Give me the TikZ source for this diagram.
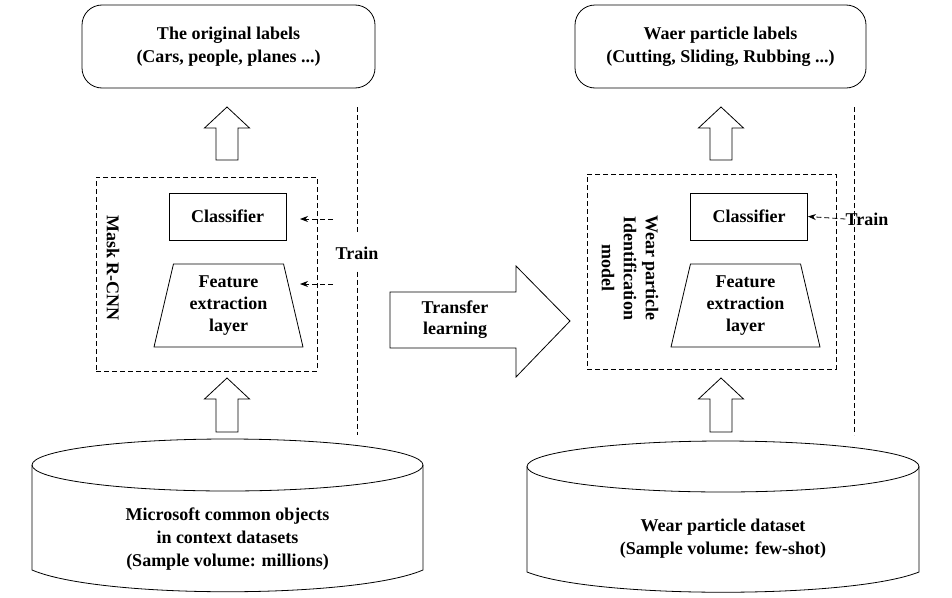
\documentclass[tikz,border=0pt]{standalone}
\usepackage{fontspec}
\setmainfont{Liberation Serif}
\usetikzlibrary{arrows.meta, positioning, calc, shapes.geometric}

% hollow up arrow: x, tip y, head base y, bottom y
\newcommand{\upblock}[4]{%
  \draw (#1,#2) -- (#1+22.5,#3) -- (#1+11,#3) -- (#1+11,#4) -- (#1-11,#4) -- (#1-11,#3) -- (#1-22.5,#3) -- cycle;}

\begin{document}
\begin{tikzpicture}[x=1pt, y=-1pt, line width=0.8pt,
    every node/.style={font=\bfseries\fontsize{18}{23}\selectfont, align=center, inner sep=0pt},
    labelbox/.style={draw, rounded corners=20pt, minimum width=293pt, minimum height=83pt},
    layerbox/.style={draw, minimum width=117pt, minimum height=47pt},
    featbox/.style={draw, trapezium, trapezium stretches=true, trapezium angle=77,
        minimum width=149pt, minimum height=83pt, font=\bfseries\fontsize{18}{22}\selectfont},
    modelbox/.style={draw, dash pattern=on 5pt off 3pt},
    guide/.style={dash pattern=on 5pt off 3pt},
    trainarrow/.style={dash pattern=on 5pt off 3pt, -{Stealth[length=8pt, width=6pt]}}]
    \useasboundingbox (0,0) rectangle (952,597);

    % left: source model
    \node[labelbox] (lout) at (228.5,46.5) {The original labels\\(Cars, people, planes ...)};
    \node[modelbox, minimum width=221pt, minimum height=194pt] (lmodel) at (206.5,274) {};
    \node[layerbox] (lcls) at (227.5,216.5) {Classifier};
    \node[featbox] (lfeat) at (228.5,305.5) {Feature\\extraction\\layer};
    \node[rotate=-90] (lname) at (113,268) {Mask R-CNN};
    \upblock{227}{107}{128}{160}
    \upblock{227}{378}{399}{432}

    \node[inner ysep=12pt] (ltrain) at (357,253) {Train};
    \draw[guide] (357,107) -- (ltrain.north);
    \draw[guide] (ltrain.south) -- (357,435);
    \coordinate (lta) at (333,219);
    \coordinate (ltb) at (333,284);
    \coordinate (ltaend) at (300,219);
    \coordinate (ltbend) at (300,284);
    \draw[trainarrow] (lta) -- (ltaend);
    \draw[trainarrow] (ltb) -- (ltbend);

    \draw (32,465) -- (32,570) .. controls (100,599) and (355,599) .. (423,570) -- (423,465);
    \draw (227.5,465) ellipse [x radius=195.5, y radius=26];
    \node (ldata) at (227.5,539) {Microsoft common objects\\in context datasets\\(Sample volume: millions)};

    % transfer
    \draw (390,292) -- (516,292) -- (516,266) -- (570,321) -- (516,377) -- (516,348) -- (390,348) -- cycle;
    \node[font=\bfseries\fontsize{18}{21}\selectfont] (transfer) at (455,320) {Transfer\\learning};

    % right: target model
    \node[labelbox, minimum width=291pt] (rout) at (720.5,46.5) {Waer particle labels\\(Cutting, Sliding, Rubbing ...)};
    \node[modelbox, minimum width=249pt, minimum height=195pt] (rmodel) at (711.5,271.5) {};
    \node[layerbox] (rcls) at (749,216.5) {Classifier};
    \node[featbox] (rfeat) at (745.5,305.5) {Feature\\extraction\\layer};
    \node[rotate=-90, font=\bfseries\fontsize{18}{22}\selectfont] (rname) at (630,268) {Wear particle\\Identification\\model};
    \upblock{721}{107}{128}{160}
    \upblock{721}{378}{399}{432}

    \draw[guide] (854,107) -- (854,435);
    \node (rtrain) at (867,219) {Train};
    \draw[trainarrow] (rtrain.west) -- (rcls.east);

    \draw (527,466.5) -- (527,572) .. controls (595,599) and (851,599) .. (919,572) -- (919,466.5);
    \draw (723,466.5) ellipse [x radius=196, y radius=25.5];
    \node (rdata) at (723,538.5) {Wear particle dataset\\(Sample volume: few-shot)};
\end{tikzpicture}
\end{document}
